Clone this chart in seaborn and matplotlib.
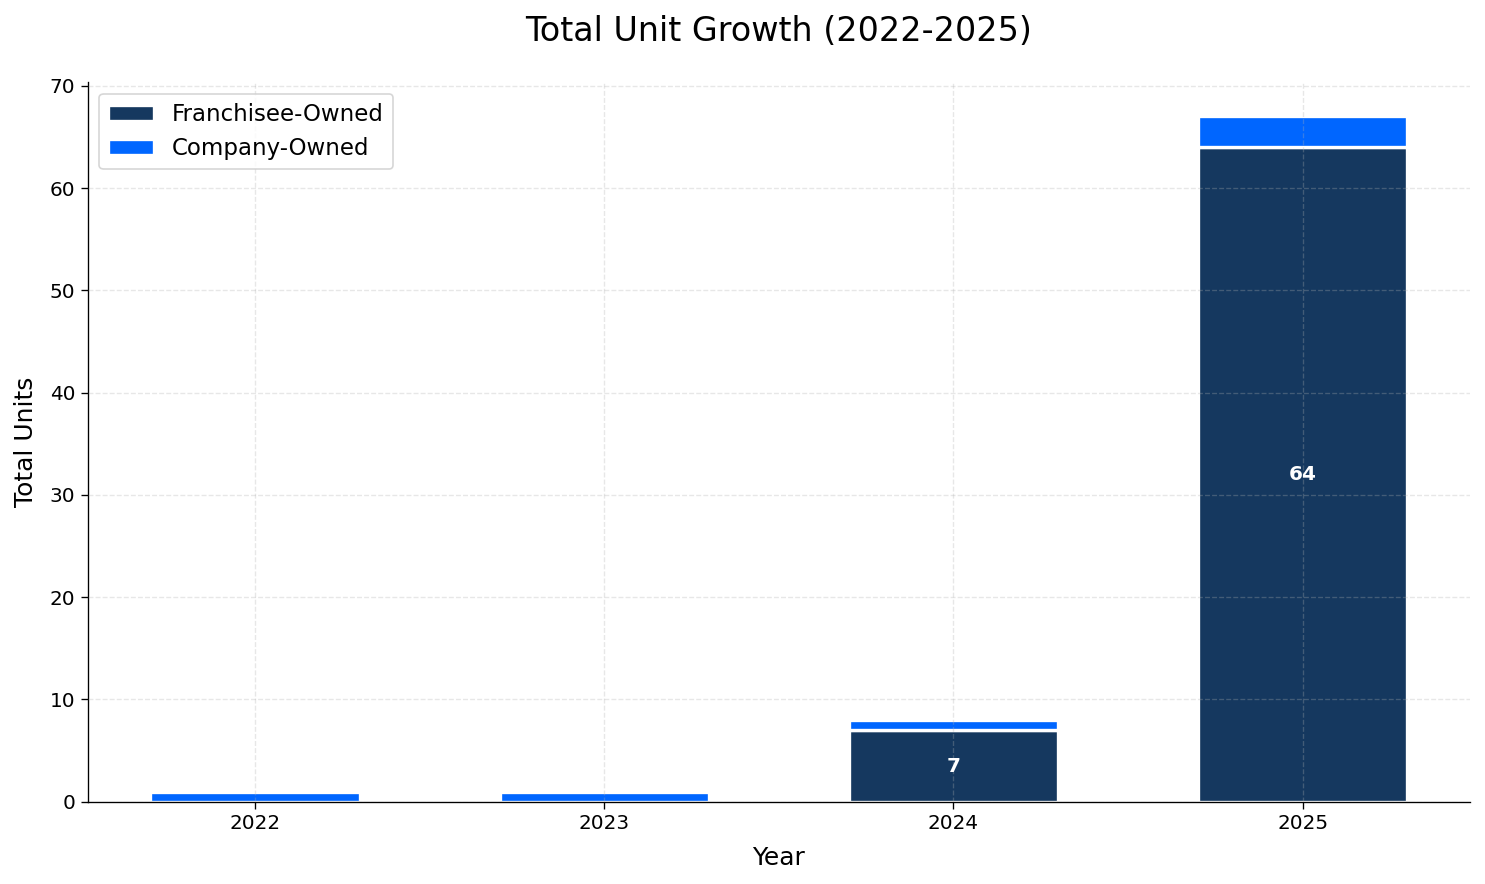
import numpy as np
import pandas as pd
import matplotlib
matplotlib.use("Agg")
import matplotlib.pyplot as plt
import seaborn as sns

# Chart data
years = ["2022", "2023", "2024", "2025"]
franchisee = [0, 0, 7, 64]
company = [1, 1, 1, 3]

sns.set_style("white")
plt.rcParams['font.family'] = ['DejaVu Sans']
plt.rcParams.update({"text.color": "black", "axes.labelcolor": "black",
                     "xtick.color": "black", "ytick.color": "black"})

df = pd.DataFrame({"Year": years, "Franchisee": franchisee, "Company": company})

fig, ax = plt.subplots(figsize=(12.375, 7.367), dpi=120)

sns.barplot(data=df, x="Year", y="Franchisee", color="#15385f", width=0.6,
            edgecolor="white", linewidth=2, saturation=1, label="Franchisee-Owned", ax=ax)
sns.barplot(data=df, x="Year", y="Company", bottom=df["Franchisee"], color="#0066ff", width=0.6,
            edgecolor="white", linewidth=2, saturation=1, label="Company-Owned", ax=ax)

# labels inside franchisee segments
for i, v in enumerate(franchisee):
    if v > 0:
        ax.text(i, v / 2, str(v), ha="center", va="center", color="white",
                fontsize=12, fontweight="bold")

ax.set_xlim(-0.48, 3.48)
ax.set_ylim(0, 70.35)
ax.set_yticks(range(0, 71, 10))
ax.grid(True, linestyle="--", alpha=0.3, color="#b0b0b0", linewidth=0.8)
ax.set_axisbelow(False)
sns.despine(ax=ax)
for s in ["left", "bottom"]:
    ax.spines[s].set_color("black")
ax.tick_params(axis="both", labelsize=12, length=4, color="black", bottom=True, left=True)

ax.set_title("Total Unit Growth (2022-2025)", fontsize=20, pad=25)
ax.set_xlabel("Year", fontsize=15, labelpad=7.5)
ax.set_ylabel("Total Units", fontsize=15, labelpad=7)
ax.legend(loc="upper left", fontsize=13.7, frameon=True)

plt.subplots_adjust(left=0.059, right=0.99, top=0.907, bottom=0.093)
plt.savefig("out.png", dpi=120)
